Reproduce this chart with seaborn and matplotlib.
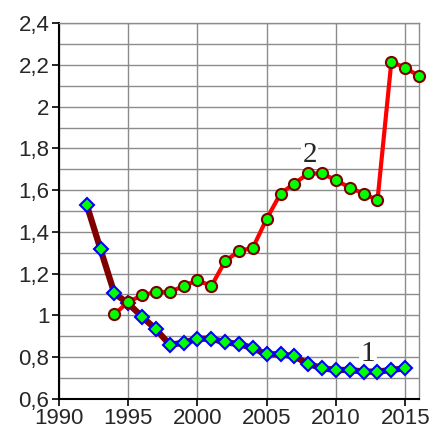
import numpy as np
import pandas as pd
import seaborn as sns
import matplotlib.pyplot as plt
from matplotlib.ticker import MultipleLocator, FuncFormatter

#%% data

years_1 = list(range(1992, 2016))
values_1 = [1.53, 1.316, 1.105, 1.057, 0.993, 0.933, 0.859, 0.868, 0.888, 0.888,
            0.870, 0.863, 0.842, 0.813, 0.813, 0.803, 0.767, 0.746, 0.738, 0.738,
            0.730, 0.730, 0.738, 0.746]

years_2 = list(range(1994, 2017))
values_2 = [1.005, 1.064, 1.096, 1.112, 1.112, 1.140, 1.169, 1.140, 1.260, 1.308,
            1.324, 1.463, 1.584, 1.632, 1.680, 1.680, 1.648, 1.612, 1.584, 1.552,
            2.216, 2.187, 2.147]

x_ticks = [1990, 1995, 2000, 2005, 2010, 2015]

df1 = pd.DataFrame({"year": years_1, "value": values_1})
df2 = pd.DataFrame({"year": years_2, "value": values_2})


def comma_fmt(v, pos):
    s = f"{v:.1f}".replace(".", ",")
    return s[:-2] if s.endswith(",0") else s


#%% plot

sns.set_style("white")
plt.rcParams['font.family'] = ['Liberation Sans', 'DejaVu Sans']

fig = plt.figure(figsize=(4.32, 4.32), dpi=100)
ax = fig.add_axes([0.1366, 0.077, 0.8334, 0.869])

sns.lineplot(data=df1, x="year", y="value", ax=ax, color="#800000", linewidth=4.5,
             marker="D", markersize=7.5, markerfacecolor="#00ff00",
             markeredgecolor="#0000ff", markeredgewidth=1.5, zorder=3, clip_on=False)
sns.lineplot(data=df2, x="year", y="value", ax=ax, color="#ff0000", linewidth=3,
             marker="o", markersize=8, markerfacecolor="#00ff00",
             markeredgecolor="#800000", markeredgewidth=1.5, zorder=4, clip_on=False)

ax.set_xlim(1990, 2016)
ax.set_ylim(0.6, 2.4)
ax.set_xticks(x_ticks)
ax.yaxis.set_major_locator(MultipleLocator(0.2))
ax.yaxis.set_minor_locator(MultipleLocator(0.1))
ax.yaxis.set_major_formatter(FuncFormatter(comma_fmt))

ax.grid(True, which="both", axis="y", color="#8c8c8c", linewidth=1)
ax.grid(True, which="major", axis="x", color="#8c8c8c", linewidth=1)
ax.set_axisbelow(True)

for side in ["top", "right"]:
    ax.spines[side].set_color("#8c8c8c")
    ax.spines[side].set_linewidth(1)
for side in ["left", "bottom"]:
    ax.spines[side].set_color("black")
    ax.spines[side].set_linewidth(1.5)

ax.tick_params(axis="both", which="major", direction="out", length=5, width=1.2,
               color="black", labelsize=16, left=True, bottom=True, pad=2)
ax.tick_params(axis="y", which="minor", left=False)
ax.set_xlabel("")
ax.set_ylabel("")

# curve labels sit under the lines so their white boxes only hide grid
bbox = dict(facecolor="white", edgecolor="none", pad=1)
ax.text(2008.1, 1.77, "2", fontsize=21, family="Liberation Serif", ha="center", va="center", bbox=bbox, zorder=2)
ax.text(2012.3, 0.815, "1", fontsize=21, family="Liberation Serif", ha="center", va="center", bbox=bbox, zorder=2)

fig.savefig("out.png", dpi=100)
